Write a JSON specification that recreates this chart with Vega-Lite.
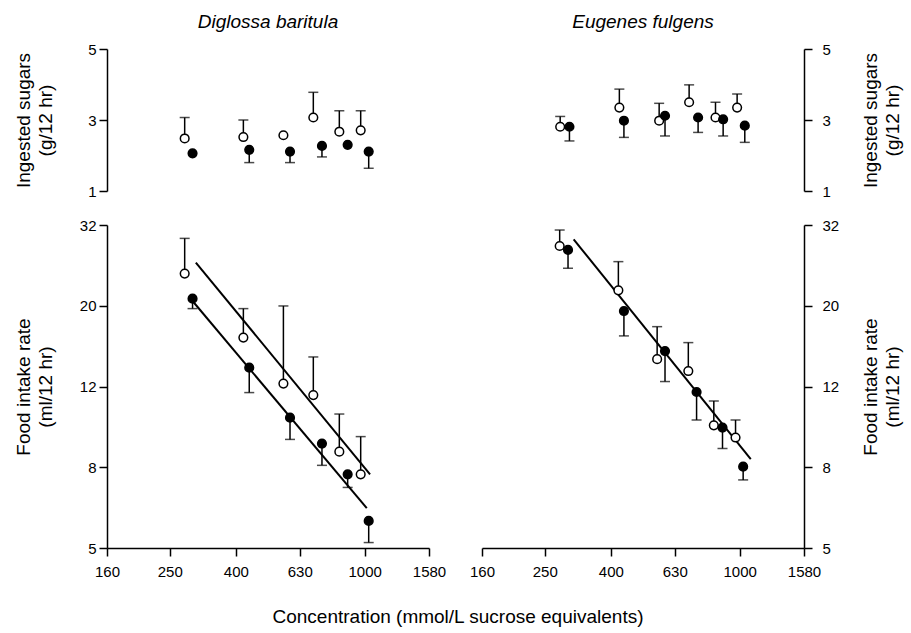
{
  "$schema": "https://vega.github.io/schema/vega-lite/v6.json",
  "background": "white",
  "padding": {"left": 14, "top": 13, "right": 5, "bottom": 5},
  "title": {"text": "Concentration (mmol/L sucrose equivalents)", "orient": "bottom", "anchor": "middle", "fontSize": 19, "fontWeight": "normal", "font": "Liberation Sans", "offset": 29, "color": "black"},
  "datasets": {
    "pts": [
      {"sp": "D", "m": "sugar", "g": "open", "conc": 278, "value": 2.48, "err": 3.07},
      {"sp": "D", "m": "sugar", "g": "open", "conc": 422, "value": 2.52, "err": 3.0},
      {"sp": "D", "m": "sugar", "g": "open", "conc": 561, "value": 2.57, "err": null},
      {"sp": "D", "m": "sugar", "g": "open", "conc": 694, "value": 3.07, "err": 3.78},
      {"sp": "D", "m": "sugar", "g": "open", "conc": 835, "value": 2.67, "err": 3.26},
      {"sp": "D", "m": "sugar", "g": "open", "conc": 972, "value": 2.71, "err": 3.26},
      {"sp": "D", "m": "sugar", "g": "filled", "conc": 294, "value": 2.06, "err": null},
      {"sp": "D", "m": "sugar", "g": "filled", "conc": 440, "value": 2.16, "err": 1.80},
      {"sp": "D", "m": "sugar", "g": "filled", "conc": 588, "value": 2.11, "err": 1.80},
      {"sp": "D", "m": "sugar", "g": "filled", "conc": 738, "value": 2.27, "err": 1.96},
      {"sp": "D", "m": "sugar", "g": "filled", "conc": 886, "value": 2.30, "err": null},
      {"sp": "D", "m": "sugar", "g": "filled", "conc": 1029, "value": 2.11, "err": 1.64},
      {"sp": "D", "m": "intake", "g": "open", "conc": 278, "value": 23.97, "err": 29.3},
      {"sp": "D", "m": "intake", "g": "open", "conc": 422, "value": 16.64, "err": 19.63},
      {"sp": "D", "m": "intake", "g": "open", "conc": 561, "value": 12.8, "err": 19.93},
      {"sp": "D", "m": "intake", "g": "open", "conc": 694, "value": 11.99, "err": 14.9},
      {"sp": "D", "m": "intake", "g": "open", "conc": 835, "value": 8.68, "err": 10.76},
      {"sp": "D", "m": "intake", "g": "open", "conc": 972, "value": 7.63, "err": 9.46},
      {"sp": "D", "m": "intake", "g": "filled", "conc": 294, "value": 20.78, "err": 19.63},
      {"sp": "D", "m": "intake", "g": "filled", "conc": 440, "value": 14.02, "err": 12.16},
      {"sp": "D", "m": "intake", "g": "filled", "conc": 588, "value": 10.54, "err": 9.31},
      {"sp": "D", "m": "intake", "g": "filled", "conc": 738, "value": 9.09, "err": 8.03},
      {"sp": "D", "m": "intake", "g": "filled", "conc": 886, "value": 7.63, "err": 7.08},
      {"sp": "D", "m": "intake", "g": "filled", "conc": 1029, "value": 5.85, "err": 5.17},
      {"sp": "E", "m": "sugar", "g": "open", "conc": 279, "value": 2.81, "err": 3.10},
      {"sp": "E", "m": "sugar", "g": "open", "conc": 425, "value": 3.35, "err": 3.87},
      {"sp": "E", "m": "sugar", "g": "open", "conc": 564, "value": 2.98, "err": 3.47},
      {"sp": "E", "m": "sugar", "g": "open", "conc": 698, "value": 3.50, "err": 3.99},
      {"sp": "E", "m": "sugar", "g": "open", "conc": 842, "value": 3.07, "err": 3.50},
      {"sp": "E", "m": "sugar", "g": "open", "conc": 982, "value": 3.35, "err": 3.73},
      {"sp": "E", "m": "sugar", "g": "filled", "conc": 298, "value": 2.81, "err": 2.41},
      {"sp": "E", "m": "sugar", "g": "filled", "conc": 439, "value": 2.98, "err": 2.51},
      {"sp": "E", "m": "sugar", "g": "filled", "conc": 588, "value": 3.12, "err": 2.55},
      {"sp": "E", "m": "sugar", "g": "filled", "conc": 744, "value": 3.07, "err": 2.65},
      {"sp": "E", "m": "sugar", "g": "filled", "conc": 889, "value": 3.02, "err": 2.55},
      {"sp": "E", "m": "sugar", "g": "filled", "conc": 1037, "value": 2.84, "err": 2.37},
      {"sp": "E", "m": "intake", "g": "open", "conc": 278, "value": 28.05, "err": 30.73},
      {"sp": "E", "m": "intake", "g": "open", "conc": 422, "value": 21.79, "err": 25.66},
      {"sp": "E", "m": "intake", "g": "open", "conc": 556, "value": 14.71, "err": 17.71},
      {"sp": "E", "m": "intake", "g": "open", "conc": 694, "value": 13.75, "err": 16.17},
      {"sp": "E", "m": "intake", "g": "open", "conc": 832, "value": 10.09, "err": 11.59},
      {"sp": "E", "m": "intake", "g": "open", "conc": 971, "value": 9.41, "err": 10.4},
      {"sp": "E", "m": "intake", "g": "filled", "conc": 295, "value": 27.43, "err": 24.71},
      {"sp": "E", "m": "intake", "g": "filled", "conc": 439, "value": 19.36, "err": 16.8},
      {"sp": "E", "m": "intake", "g": "filled", "conc": 588, "value": 15.41, "err": 12.95},
      {"sp": "E", "m": "intake", "g": "filled", "conc": 736, "value": 12.2, "err": 10.4},
      {"sp": "E", "m": "intake", "g": "filled", "conc": 885, "value": 9.96, "err": 8.84},
      {"sp": "E", "m": "intake", "g": "filled", "conc": 1025, "value": 7.97, "err": 7.39}
    ],
    "fits": [
      {"sp": "D", "g": "open", "conc": 301, "value": 25.52},
      {"sp": "D", "g": "open", "conc": 1039, "value": 7.63},
      {"sp": "D", "g": "filled", "conc": 294, "value": 20.5},
      {"sp": "D", "g": "filled", "conc": 1015, "value": 6.29},
      {"sp": "E", "g": "all", "conc": 307, "value": 29.15},
      {"sp": "E", "g": "all", "conc": 1082, "value": 8.32}
    ]
  },
  "columns": 2,
  "spacing": {"row": 34, "column": 53},
  "bounds": "flush",
  "concat": [
    {
      "width": 322, "height": 142,
      "title": {"text": "Diglossa baritula", "fontStyle": "italic", "fontWeight": "normal", "fontSize": 19, "font": "Liberation Sans", "offset": 10, "anchor": "middle", "color": "black"},
      "encoding": {"x": {"field": "conc", "type": "quantitative", "scale": {"type": "log", "domain": [160, 1580], "nice": false}, "axis": null}},
      "layer": [
        {"data": {"name": "pts"}, "transform": [{"filter": "datum.sp == 'D' && datum.m == 'sugar' && datum.err != null"}],
         "mark": {"type": "rule", "color": "black", "strokeWidth": 1.5},
         "encoding": {"y": {"field": "value", "type": "quantitative", "scale": {"domain": [1, 5], "nice": false, "zero": false},
           "axis": {"orient": "left", "values": [1, 2, 3, 4, 5], "title": ["Ingested sugars", "(g/12 hr)"], "labelPadding": 3, "minExtent": 32, "maxExtent": 32, "titlePadding": 20}},
           "y2": {"field": "err"}}},
        {"data": {"name": "pts"}, "transform": [{"filter": "datum.sp == 'D' && datum.m == 'sugar' && datum.err != null"}],
         "mark": {"type": "tick", "orient": "horizontal", "color": "black", "size": 10, "thickness": 1.5},
         "encoding": {"y": {"field": "err", "type": "quantitative"}}},
        {"data": {"name": "pts"}, "transform": [{"filter": "datum.sp == 'D' && datum.m == 'sugar'"}],
         "mark": {"type": "circle", "stroke": "black", "strokeWidth": 1.5, "size": 75, "opacity": 1},
         "encoding": {"y": {"field": "value", "type": "quantitative"},
           "fill": {"field": "g", "type": "nominal", "scale": {"domain": ["open", "filled"], "range": ["white", "black"]}, "legend": null}}}
      ]
    },
    {
      "width": 322, "height": 142,
      "title": {"text": "Eugenes fulgens", "fontStyle": "italic", "fontWeight": "normal", "fontSize": 19, "font": "Liberation Sans", "offset": 10, "anchor": "middle", "color": "black"},
      "encoding": {"x": {"field": "conc", "type": "quantitative", "scale": {"type": "log", "domain": [160, 1580], "nice": false}, "axis": null}},
      "layer": [
        {"data": {"name": "pts"}, "transform": [{"filter": "datum.sp == 'E' && datum.m == 'sugar' && datum.err != null"}],
         "mark": {"type": "rule", "color": "black", "strokeWidth": 1.5},
         "encoding": {"y": {"field": "value", "type": "quantitative", "scale": {"domain": [1, 5], "nice": false, "zero": false},
           "axis": {"orient": "right", "values": [1, 2, 3, 4, 5], "title": ["Ingested sugars", "(g/12 hr)"], "labelPadding": 10, "minExtent": 38, "maxExtent": 38, "titlePadding": -3, "titleAngle": -90, "titleBaseline": "top"}},
           "y2": {"field": "err"}}},
        {"data": {"name": "pts"}, "transform": [{"filter": "datum.sp == 'E' && datum.m == 'sugar' && datum.err != null"}],
         "mark": {"type": "tick", "orient": "horizontal", "color": "black", "size": 10, "thickness": 1.5},
         "encoding": {"y": {"field": "err", "type": "quantitative"}}},
        {"data": {"name": "pts"}, "transform": [{"filter": "datum.sp == 'E' && datum.m == 'sugar'"}],
         "mark": {"type": "circle", "stroke": "black", "strokeWidth": 1.5, "size": 75, "opacity": 1},
         "encoding": {"y": {"field": "value", "type": "quantitative"},
           "fill": {"field": "g", "type": "nominal", "scale": {"domain": ["open", "filled"], "range": ["white", "black"]}, "legend": null}}}
      ]
    },
    {
      "width": 322, "height": 323,
      "encoding": {"x": {"field": "conc", "type": "quantitative", "scale": {"type": "log", "domain": [160, 1580], "nice": false},
        "axis": {"values": [160, 250, 400, 630, 1000, 1580], "format": "d", "title": null, "labelPadding": 8, "labelFlush": false}}},
      "layer": [
        {"data": {"name": "pts"}, "transform": [{"filter": "datum.sp == 'D' && datum.m == 'intake'"}],
         "mark": {"type": "rule", "color": "black", "strokeWidth": 1.5},
         "encoding": {"y": {"field": "value", "type": "quantitative", "scale": {"type": "log", "domain": [5.0119, 31.623], "nice": false},
           "axis": {"orient": "left", "values": [5.0119, 7.9433, 12.589, 19.953, 31.623], "labelExpr": "datum.value < 6 ? '5' : datum.value < 10 ? '8' : datum.value < 15 ? '12' : datum.value < 25 ? '20' : '32'", "title": ["Food intake rate", "(ml/12 hr)"], "labelPadding": 3, "minExtent": 32, "maxExtent": 32, "titlePadding": 20}},
           "y2": {"field": "err"}}},
        {"data": {"name": "pts"}, "transform": [{"filter": "datum.sp == 'D' && datum.m == 'intake'"}],
         "mark": {"type": "tick", "orient": "horizontal", "color": "black", "size": 10, "thickness": 1.5},
         "encoding": {"y": {"field": "err", "type": "quantitative"}}},
        {"data": {"name": "fits"}, "transform": [{"filter": "datum.sp == 'D'"}],
         "mark": {"type": "line", "color": "black", "strokeWidth": 2},
         "encoding": {"y": {"field": "value", "type": "quantitative"}, "detail": {"field": "g", "type": "nominal"}}},
        {"data": {"name": "pts"}, "transform": [{"filter": "datum.sp == 'D' && datum.m == 'intake'"}],
         "mark": {"type": "circle", "stroke": "black", "strokeWidth": 1.5, "size": 75, "opacity": 1},
         "encoding": {"y": {"field": "value", "type": "quantitative"},
           "fill": {"field": "g", "type": "nominal", "scale": {"domain": ["open", "filled"], "range": ["white", "black"]}, "legend": null}}}
      ]
    },
    {
      "width": 322, "height": 323,
      "encoding": {"x": {"field": "conc", "type": "quantitative", "scale": {"type": "log", "domain": [160, 1580], "nice": false},
        "axis": {"values": [160, 250, 400, 630, 1000, 1580], "format": "d", "title": null, "labelPadding": 8, "labelFlush": false}}},
      "layer": [
        {"data": {"name": "pts"}, "transform": [{"filter": "datum.sp == 'E' && datum.m == 'intake'"}],
         "mark": {"type": "rule", "color": "black", "strokeWidth": 1.5},
         "encoding": {"y": {"field": "value", "type": "quantitative", "scale": {"type": "log", "domain": [5.0119, 31.623], "nice": false},
           "axis": {"orient": "right", "values": [5.0119, 7.9433, 12.589, 19.953, 31.623], "labelExpr": "datum.value < 6 ? '5' : datum.value < 10 ? '8' : datum.value < 15 ? '12' : datum.value < 25 ? '20' : '32'", "title": ["Food intake rate", "(ml/12 hr)"], "labelPadding": 10, "minExtent": 38, "maxExtent": 38, "titlePadding": -3, "titleAngle": -90, "titleBaseline": "top"}},
           "y2": {"field": "err"}}},
        {"data": {"name": "pts"}, "transform": [{"filter": "datum.sp == 'E' && datum.m == 'intake'"}],
         "mark": {"type": "tick", "orient": "horizontal", "color": "black", "size": 10, "thickness": 1.5},
         "encoding": {"y": {"field": "err", "type": "quantitative"}}},
        {"data": {"name": "fits"}, "transform": [{"filter": "datum.sp == 'E'"}],
         "mark": {"type": "line", "color": "black", "strokeWidth": 2},
         "encoding": {"y": {"field": "value", "type": "quantitative"}, "detail": {"field": "g", "type": "nominal"}}},
        {"data": {"name": "pts"}, "transform": [{"filter": "datum.sp == 'E' && datum.m == 'intake'"}],
         "mark": {"type": "circle", "stroke": "black", "strokeWidth": 1.5, "size": 75, "opacity": 1},
         "encoding": {"y": {"field": "value", "type": "quantitative"},
           "fill": {"field": "g", "type": "nominal", "scale": {"domain": ["open", "filled"], "range": ["white", "black"]}, "legend": null}}}
      ]
    }
  ],
  "config": {
    "view": {"stroke": null},
    "font": "Liberation Sans",
    "axis": {
      "grid": false,
      "domainColor": "black", "domainWidth": 1.5,
      "tickColor": "black", "tickWidth": 1.5, "tickSize": 8,
      "labelColor": "black", "labelFont": "Liberation Sans", "labelFontSize": 15,
      "titleColor": "black", "titleFont": "Liberation Sans", "titleFontSize": 19, "titleFontWeight": "normal", "titleLineHeight": 22
    }
  }
}
